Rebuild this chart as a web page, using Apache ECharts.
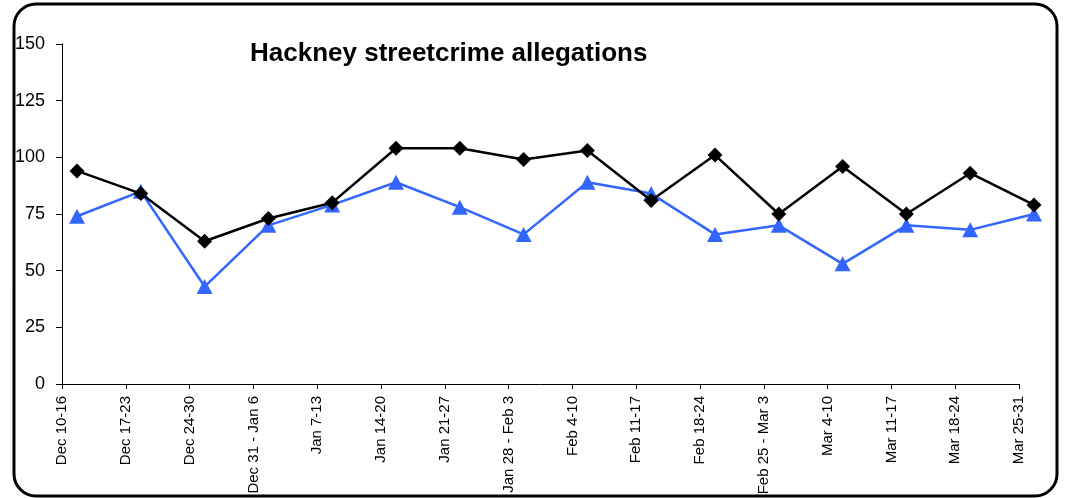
<!DOCTYPE html>
<html>
<head>
<meta charset="utf-8">
<script src="https://cdn.jsdelivr.net/npm/echarts@6/dist/echarts.min.js"></script>
<style>
html,body{margin:0;padding:0;background:#fff;}
#chart{width:1068px;height:498px;}
</style>
</head>
<body>
<div id="chart"></div>
<script>
var categories = ['Dec 10-16','Dec 17-23','Dec 24-30','Dec 31 - Jan 6','Jan 7-13','Jan 14-20','Jan 21-27','Jan 28 - Feb 3','Feb 4-10','Feb 11-17','Feb 18-24','Feb 25 - Mar 3','Mar 4-10','Mar 11-17','Mar 18-24','Mar 25-31'];
var seriesBlack = [94, 84, 63, 73, 80, 104, 104, 99, 103, 81, 101, 75, 96, 75, 93, 79];
var seriesBlue = [74, 85, 43, 70, 79, 89, 78, 66, 89, 84, 66, 70, 53, 70, 68, 75];
var titleText = 'Hackney streetcrime allegations';

var FONT = '"Liberation Sans", Arial, sans-serif';
var chart = echarts.init(document.getElementById('chart'), null, {renderer: 'canvas'});
var option = {
  animation: false,
  backgroundColor: '#ffffff',
  title: {
    text: titleText,
    left: 245, top: 36,
    textStyle: {fontFamily: FONT, fontSize: 26, fontWeight: 'bold', color: '#000'}
  },
  graphic: [{
    type: 'rect',
    shape: {x: 14, y: 4, width: 1043, height: 492, r: 22},
    style: {fill: 'none', stroke: '#000', lineWidth: 3},
    silent: true, z: 100
  }],
  grid: [
    {left: 62, right: 49, top: 44, bottom: 114, containLabel: false},
    {left: 77, right: 34, top: 44, bottom: 114, containLabel: false}
  ],
  xAxis: [
    {
      type: 'category', gridIndex: 0, data: categories, boundaryGap: false,
      axisLine: {lineStyle: {color: '#000', width: 1}},
      axisTick: {show: true, length: 5, alignWithLabel: true, lineStyle: {color: '#000'}},
      axisLabel: {rotate: 90, interval: 0, margin: 12, fontFamily: FONT, fontSize: 15, color: '#000'},
      splitLine: {show: false}
    },
    {
      type: 'category', gridIndex: 1, data: categories, boundaryGap: false, show: false
    }
  ],
  yAxis: [
    {
      type: 'value', gridIndex: 0, min: 0, max: 150, interval: 25,
      axisLine: {show: true, lineStyle: {color: '#000', width: 1}},
      axisTick: {show: true, length: 6, lineStyle: {color: '#000'}},
      axisLabel: {margin: 17, fontFamily: FONT, fontSize: 18, color: '#000'},
      splitLine: {show: false}
    },
    {
      type: 'value', gridIndex: 1, min: 0, max: 150, interval: 25, show: false,
      splitLine: {show: false}
    }
  ],
  series: [
    {
      name: 'Black', type: 'line', xAxisIndex: 1, yAxisIndex: 1, data: seriesBlack,
      symbol: 'diamond', symbolSize: 15,
      lineStyle: {color: '#000', width: 2.5},
      itemStyle: {color: '#000'},
      z: 3
    },
    {
      name: 'Blue', type: 'line', xAxisIndex: 1, yAxisIndex: 1, data: seriesBlue,
      symbol: 'triangle', symbolSize: [16, 15],
      lineStyle: {color: '#3366ff', width: 2.5},
      itemStyle: {color: '#3366ff'},
      z: 2
    }
  ]
};
chart.setOption(option);
</script>
</body>
</html>
